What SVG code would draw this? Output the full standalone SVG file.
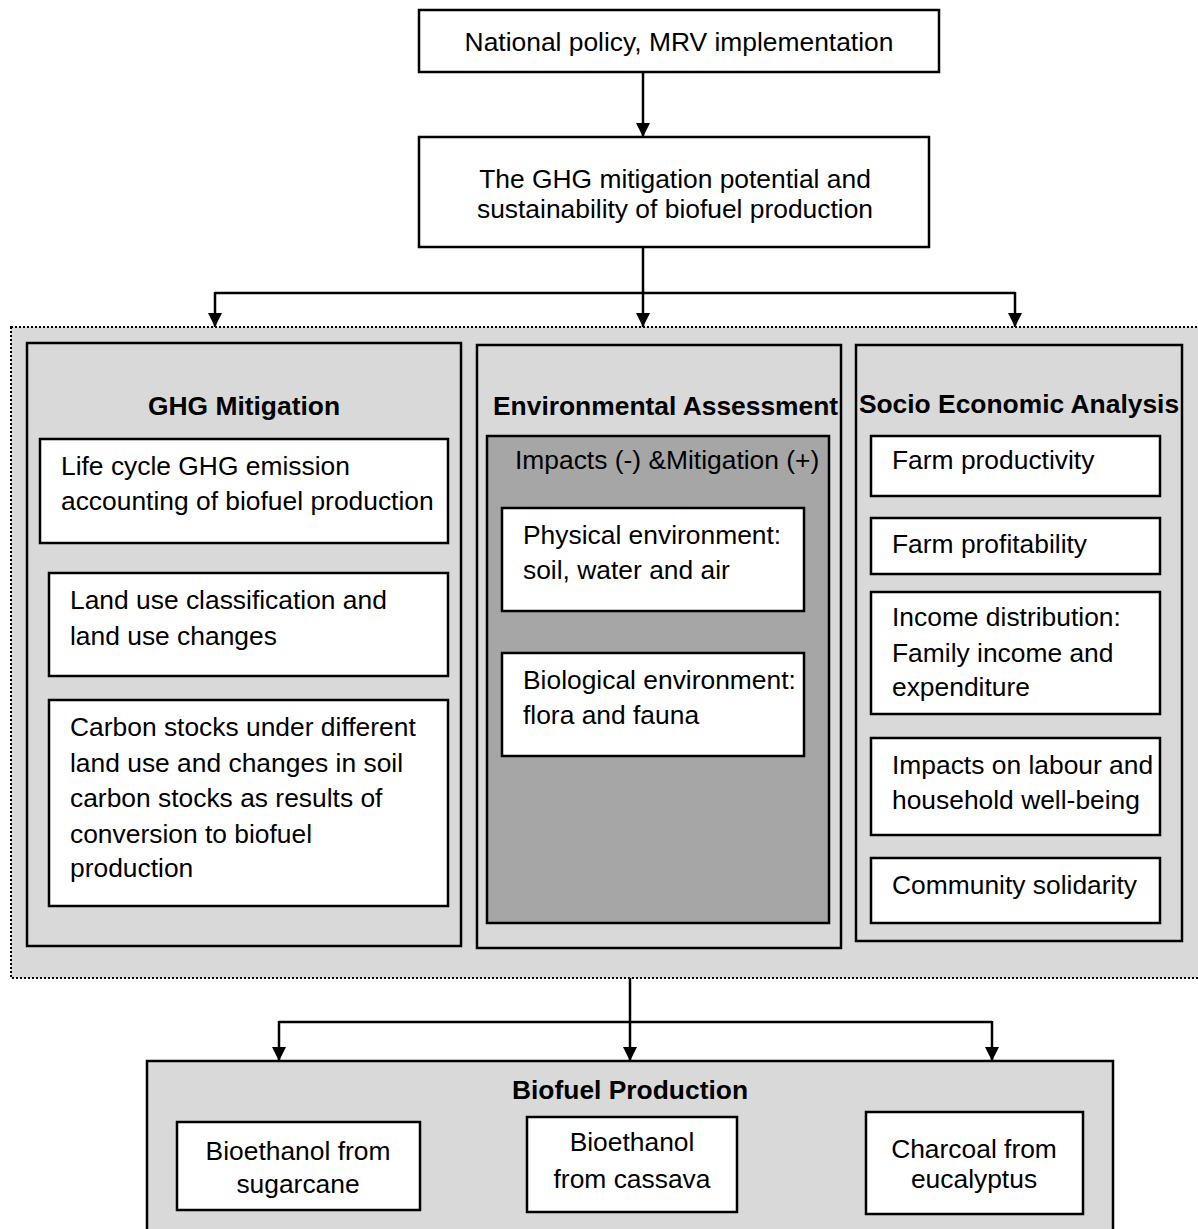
<svg xmlns="http://www.w3.org/2000/svg" width="1198" height="1229" viewBox="0 0 1198 1229">
<style>
  .box{fill:#ffffff;stroke:#000;stroke-width:2.5}
  .col{fill:#d9d9d9;stroke:#000;stroke-width:2.5}
  .dark{fill:#a6a6a6;stroke:#000;stroke-width:2.5}
  .outer{fill:#d9d9d9;stroke:#000;stroke-width:2;stroke-dasharray:2,2}
  .t{font-family:"Liberation Sans",Arial,sans-serif;font-size:26.4px;fill:#000}
  .b{font-family:"Liberation Sans",Arial,sans-serif;font-size:26.4px;font-weight:bold;fill:#000}
  .c{text-anchor:middle}
  .ln{fill:none;stroke:#000;stroke-width:2.5}
</style>
<defs>
  <marker id="ah" markerUnits="userSpaceOnUse" markerWidth="14" markerHeight="14" refX="14" refY="7" orient="auto">
    <path d="M0,0 L14,7 L0,14 z" fill="#000"/>
  </marker>
</defs>
<rect width="1198" height="1229" fill="#ffffff"/>

<g id="outer-group">
  <rect class="outer" x="11" y="327" width="1200" height="651"/>
</g>

<g id="national-policy">
  <rect class="box" x="419" y="10" width="520" height="62"/>
  <text class="t c" x="679" y="51">National policy, MRV implementation</text>
</g>

<g id="ghg-potential">
  <rect class="box" x="419" y="137" width="510" height="110"/>
  <text class="t c" x="675" y="188">The GHG mitigation potential and</text>
  <text class="t c" x="675" y="218">sustainability of biofuel production</text>
</g>

<g id="ghg-mitigation">
  <rect class="col" x="27" y="343" width="434" height="603"/>
  <text class="b c" x="244" y="415">GHG Mitigation</text>
  <rect class="box" x="40" y="439" width="408" height="104"/>
  <text class="t" x="61" y="475">Life cycle GHG emission</text>
  <text class="t" x="61" y="510">accounting of biofuel production</text>
  <rect class="box" x="49" y="573" width="399" height="103"/>
  <text class="t" x="70" y="609">Land use classification and</text>
  <text class="t" x="70" y="645">land use changes</text>
  <rect class="box" x="49" y="700" width="399" height="206"/>
  <text class="t" x="70" y="736">Carbon stocks under different</text>
  <text class="t" x="70" y="772">land use and changes in soil</text>
  <text class="t" x="70" y="807">carbon stocks as results of</text>
  <text class="t" x="70" y="843">conversion to biofuel</text>
  <text class="t" x="70" y="877">production</text>
</g>

<g id="environmental-assessment">
  <rect class="col" x="477" y="345" width="364" height="603"/>
  <text class="b" x="493" y="415">Environmental Assessment</text>
  <rect class="dark" x="487" y="436" width="342" height="487"/>
  <text class="t" x="515" y="469">Impacts (-) &amp;Mitigation (+)</text>
  <rect class="box" x="502" y="508" width="302" height="103"/>
  <text class="t" x="523" y="544">Physical environment:</text>
  <text class="t" x="523" y="579">soil, water and air</text>
  <rect class="box" x="502" y="653" width="302" height="103"/>
  <text class="t" x="523" y="689">Biological environment:</text>
  <text class="t" x="523" y="724">flora and fauna</text>
</g>

<g id="socio-economic">
  <rect class="col" x="856" y="345" width="326" height="596"/>
  <text class="b c" x="1019" y="413">Socio Economic Analysis</text>
  <rect class="box" x="871" y="436" width="289" height="60"/>
  <text class="t" x="892" y="469">Farm productivity</text>
  <rect class="box" x="871" y="518" width="289" height="56"/>
  <text class="t" x="892" y="553">Farm profitability</text>
  <rect class="box" x="871" y="592" width="289" height="122"/>
  <text class="t" x="892" y="626">Income distribution:</text>
  <text class="t" x="892" y="662">Family income and</text>
  <text class="t" x="892" y="696">expenditure</text>
  <rect class="box" x="871" y="738" width="289" height="97"/>
  <text class="t" x="892" y="774">Impacts on labour and</text>
  <text class="t" x="892" y="809">household well-being</text>
  <rect class="box" x="871" y="858" width="289" height="65"/>
  <text class="t" x="892" y="894">Community solidarity</text>
</g>

<g id="biofuel-production">
  <rect class="col" x="147" y="1061" width="966" height="200"/>
  <text class="b c" x="630" y="1099">Biofuel Production</text>
  <rect class="box" x="177" y="1122" width="243" height="88"/>
  <text class="t c" x="298" y="1160">Bioethanol from</text>
  <text class="t c" x="298" y="1193">sugarcane</text>
  <rect class="box" x="527" y="1117" width="210" height="95"/>
  <text class="t c" x="632" y="1151">Bioethanol</text>
  <text class="t c" x="632" y="1188">from cassava</text>
  <rect class="box" x="866" y="1112" width="217" height="102"/>
  <text class="t c" x="974" y="1158">Charcoal from</text>
  <text class="t c" x="974" y="1188">eucalyptus</text>
</g>

<g id="connectors">
  <path class="ln" d="M643,72 V137" marker-end="url(#ah)"/>
  <path class="ln" d="M643,247 V327" marker-end="url(#ah)"/>
  <path class="ln" d="M215,293 H1015"/>
  <path class="ln" d="M215,292 V327" marker-end="url(#ah)"/>
  <path class="ln" d="M1015,292 V327" marker-end="url(#ah)"/>
  <path class="ln" d="M630,978 V1061" marker-end="url(#ah)"/>
  <path class="ln" d="M279,1022 H992"/>
  <path class="ln" d="M279,1021 V1061" marker-end="url(#ah)"/>
  <path class="ln" d="M992,1021 V1061" marker-end="url(#ah)"/>
</g>
</svg>
